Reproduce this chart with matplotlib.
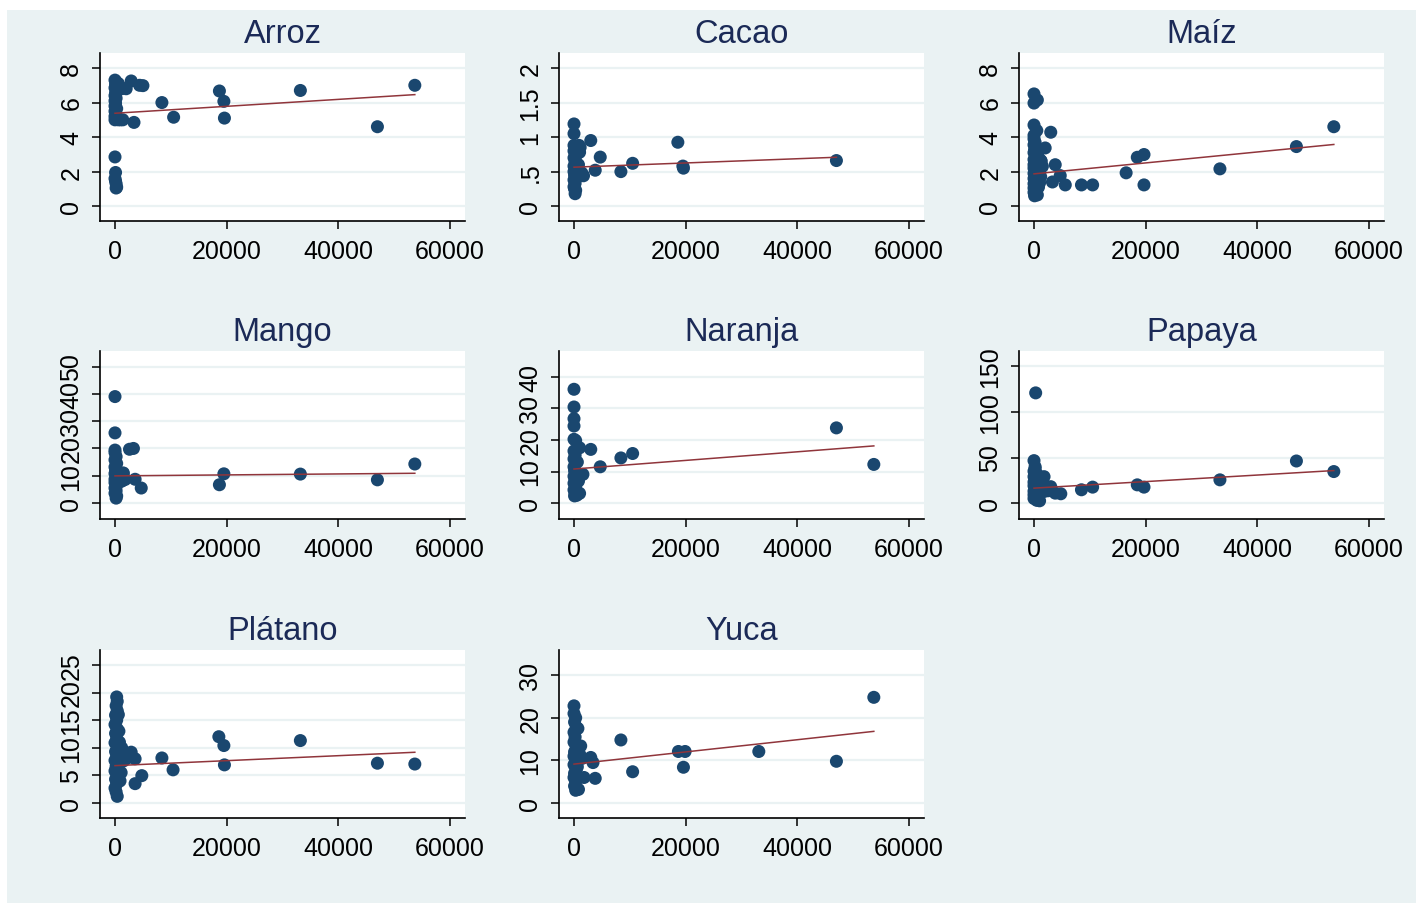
import numpy as np
import matplotlib.pyplot as plt
from matplotlib.patches import Rectangle

plt.rcParams['font.family'] = ['Liberation Sans', 'DejaVu Sans']

# crops, in panel order
crops = ["Arroz", "Cacao", "Maíz", "Mango", "Naranja", "Papaya", "Plátano", "Yuca"]

# scatter data (x = area, y = yield)
arroz_x = [0, 200, 100, 400, 0, 300, 100, 0, 200, 0, 100, 0, 300, 0, 100, 0, 200, 0, 600, 1000,
           600, 900, 1200, 0, 100, 0, 100, 200, 300, 200,
           2000, 2900, 4400, 5000, 1400, 3400, 8400, 10500, 18700, 19500, 19600, 33200, 47000, 53700]
arroz_y = [7.3, 7.2, 7.05, 6.95, 6.85, 6.7, 6.55, 6.4, 6.25, 6.1, 5.95, 5.8, 5.65, 5.5, 5.35, 5.2, 5.05, 5.0, 5.0, 5.0,
           7.1, 6.9, 6.8, 2.85, 1.95, 1.6, 1.45, 1.3, 1.1, 1.05,
           6.8, 7.25, 7.0, 6.98, 5.0, 4.85, 6.0, 5.15, 6.67, 6.07, 5.1, 6.7, 4.6, 7.0]

cacao_x = [0, 0, 0, 300, 900, 1100, 0, 500, 1000, 0, 200, 800, 0, 300, 1000, 0, 100, 600, 1700, 0,
           200, 0, 300, 200, 100, 1400,
           3000, 4700, 3800, 8400, 10500, 18600, 19500, 19600, 47000]
cacao_y = [1.19, 1.05, 0.88, 0.85, 0.88, 0.85, 0.8, 0.75, 0.78, 0.7, 0.65, 0.6, 0.58, 0.55, 0.5, 0.5, 0.45, 0.42, 0.44, 0.38,
           0.33, 0.28, 0.23, 0.18, 0.25, 0.48,
           0.95, 0.71, 0.52, 0.50, 0.62, 0.925, 0.58, 0.55, 0.66]

maiz_x = [0, 0, 600, 0, 500, 0, 0, 200, 0, 400, 100, 0, 300, 800, 0, 1200, 200, 0, 600, 1500,
          0, 300, 900, 0, 200, 1200, 0, 500, 0, 300, 800, 0, 200, 0, 400, 100, 600, 1000, 1300, 600,
          2000, 3000, 3800, 4700, 3300, 5600, 8500, 10500, 16500, 18500, 19700, 19700, 33300, 47000, 53700]
maiz_y = [6.5, 5.97, 6.15, 4.7, 4.38, 4.1, 3.9, 3.7, 3.55, 3.4, 3.25, 3.1, 2.95, 2.8, 2.7, 2.65, 2.55, 2.4, 2.3, 2.3,
          2.2, 2.05, 2.0, 1.9, 1.75, 1.7, 1.6, 1.45, 1.3, 1.2, 1.1, 1.05, 0.9, 0.8, 0.7, 0.6, 0.65, 1.35, 2.6, 3.0,
          3.37, 4.28, 2.4, 1.77, 1.4, 1.23, 1.23, 1.23, 1.93, 2.83, 2.99, 1.23, 2.16, 3.45, 4.6]

mango_x = [0, 0, 0, 0, 200, 0, 300, 0, 100, 500, 0, 1000, 1500, 200, 0, 600, 1800, 0, 300, 0,
           200, 0, 300, 200, 900, 1200, 1400,
           2600, 3300, 3600, 4700, 18700, 19500, 33200, 47000, 53700]
mango_y = [39, 25.7, 19.4, 18.5, 17, 15.8, 14.5, 13.2, 12, 11.5, 10.8, 10.2, 11, 9.5, 8.7, 8.2, 8.6, 7.5, 6.5, 5.5,
           4.5, 3.6, 2.6, 1.8, 9.5, 8.0, 10.9,
           19.7, 20.0, 8.7, 5.5, 6.7, 10.7, 10.6, 8.5, 14.3]

naranja_x = [0, 0, 0, 0, 0, 300, 1000, 3000, 0, 200, 0, 300, 0, 100, 500, 0, 1600, 200, 0, 300,
             0, 200, 500, 1000, 100, 600, 800,
             4700, 8400, 10500, 47000, 53700]
naranja_y = [36, 30.4, 26.7, 24.4, 20.2, 19.8, 17.5, 17.0, 16.5, 15.2, 14, 12.8, 11.5, 10.3, 9.5, 8.5, 9.1, 7.4, 6.3, 5.2,
             4.2, 3.2, 2.5, 3.1, 2.3, 13, 7,
             11.5, 14.3, 15.7, 23.8, 12.25]

papaya_x = [300, 0, 200, 0, 500, 0, 1800, 300, 0, 800, 0, 300, 1200, 0, 600, 0, 300, 0, 500, 1000,
            200, 1500, 3000, 1800, 3800, 4800, 2500,
            8500, 10500, 18500, 19700, 33300, 47000, 53700]
papaya_y = [121, 46.6, 38, 35, 32, 29, 29, 26, 23, 21, 19, 16, 15, 13, 11, 9, 7, 5, 3, 2.5,
            40, 20, 18, 12.7, 10.9, 10.2, 13.5,
            14.6, 17.5, 20.0, 17.5, 25.5, 46.2, 34.6]

platano_x = [300, 400, 200, 400, 100, 300, 0, 400, 100, 300, 0, 500, 100, 300, 0, 600, 200, 0, 400, 100,
             300, 0, 200, 400, 1000, 1100, 900, 1500, 2000, 1200, 700, 600, 800,
             2900, 3600, 3600, 4800, 8400, 10400, 18600, 19500, 19600, 33200, 47000, 53700]
platano_y = [19.2, 18.4, 17.6, 16.7, 15.9, 15.0, 14.2, 13.4, 12.6, 11.7, 10.9, 10.1, 9.3, 8.5, 7.7, 7.2, 6.6, 5.8, 5.0, 4.3,
             3.5, 2.7, 2.0, 1.2, 9.0, 5.5, 4.0, 7.6, 8.0, 10.0, 13.0, 16.0, 11.0,
             9.2, 8.0, 3.5, 4.95, 8.15, 6.0, 12.0, 10.4, 6.9, 11.3, 7.2, 7.05]

yuca_x = [0, 0, 300, 100, 400, 0, 200, 1200, 0, 400, 100, 0, 300, 1500, 0, 400, 100, 0, 300, 100,
          300, 800, 1800, 1000, 700, 600,
          3000, 3400, 3800, 8400, 10500, 18700, 19900, 19600, 33100, 47000, 53700]
yuca_y = [22.8, 21, 20, 19, 17.8, 16.6, 15.5, 13.4, 14.3, 13, 12, 11, 10, 10.5, 9, 8, 7, 6, 5, 4,
          3, 3.2, 6.0, 11.5, 17.5, 8.5,
          10.7, 9.5, 5.8, 14.8, 7.35, 12.1, 12.1, 8.4, 12.1, 9.8, 24.8]

# linear fit lines as seen in the picture
fit_intercept = [5.38, 0.564, 1.87, 9.95, 10.8, 16.4, 6.76, 9.14]
fit_slope = [2.01e-5, 3.06e-6, 3.17e-5, 1.77e-5, 1.36e-4, 3.59e-4, 4.51e-5, 1.43e-4]

# y axis ticks per panel
yticks = [[0, 2, 4, 6, 8], [0, 0.5, 1, 1.5, 2], [0, 2, 4, 6, 8], [0, 10, 20, 30, 40, 50],
          [0, 10, 20, 30, 40], [0, 50, 100, 150], [0, 5, 10, 15, 20, 25], [0, 10, 20, 30]]
ytick_labels = [["0", "2", "4", "6", "8"], ["0", ".5", "1", "1.5", "2"], ["0", "2", "4", "6", "8"],
                ["0", "10", "20", "30", "40", "50"], ["0", "10", "20", "30", "40"],
                ["0", "50", "100", "150"], ["0", "5", "10", "15", "20", "25"], ["0", "10", "20", "30"]]
ylims = [(-0.86, 8.87), (-0.215, 2.217), (-0.86, 8.87), (-5.85, 55.7), (-5.0, 48.1),
         (-17.5, 167), (-2.72, 27.7), (-3.5, 35.9)]
xticks = [0, 20000, 40000, 60000]

xs = [arroz_x, cacao_x, maiz_x, mango_x, naranja_x, papaya_x, platano_x, yuca_x]
ys = [arroz_y, cacao_y, maiz_y, mango_y, naranja_y, papaya_y, platano_y, yuca_y]

W, H = 1416, 904
bg = "#EAF2F3"
navy = "#1A476F"
maroon = "#90353B"

fig = plt.figure(figsize=(W / 100, H / 100), dpi=100)
fig.patch.set_facecolor("white")
fig.patches.append(Rectangle((7 / W, 0), 1 - 7 / W, 1 - 11 / H, transform=fig.transFigure,
                             facecolor=bg, edgecolor="none", zorder=-10))

lefts = [100, 559, 1019]
tops = [54, 352, 651]
aw, ah = 365, 168

for i, name in enumerate(crops):
    r, c = divmod(i, 3)
    ax = fig.add_axes([lefts[c] / W, 1 - (tops[r] + ah) / H, aw / W, ah / H])
    ax.set_facecolor("white")
    x = np.array(xs[i])
    y = np.array(ys[i])
    ax.scatter(x, y, s=88, color=navy, edgecolors="none", zorder=3)
    xl = np.array([x.min(), x.max()])
    ax.plot(xl, fit_intercept[i] + fit_slope[i] * xl, color=maroon, lw=1.1, zorder=4)

    ax.set_xlim(-2687, 62687)
    ax.set_ylim(*ylims[i])
    ax.set_xticks(xticks)
    ax.set_xticklabels([str(t) for t in xticks])
    ax.set_yticks(yticks[i])
    ax.set_yticklabels(ytick_labels[i], rotation=90, va="center")
    ax.grid(axis="y", color=bg, lw=1.6, zorder=0)
    ax.set_axisbelow(True)
    for s in ["top", "right"]:
        ax.spines[s].set_visible(False)
    for s in ["left", "bottom"]:
        ax.spines[s].set_linewidth(1.2)
        ax.spines[s].set_color("black")
    ax.tick_params(length=6, width=1.1, color="black", labelsize=18, labelcolor="black")
    ax.tick_params(axis="x", pad=7)
    ax.tick_params(axis="y", pad=6)
    ax.set_title(name, fontsize=23.5, color="#1B2A57", pad=8)

plt.savefig("out.png", dpi=100)
